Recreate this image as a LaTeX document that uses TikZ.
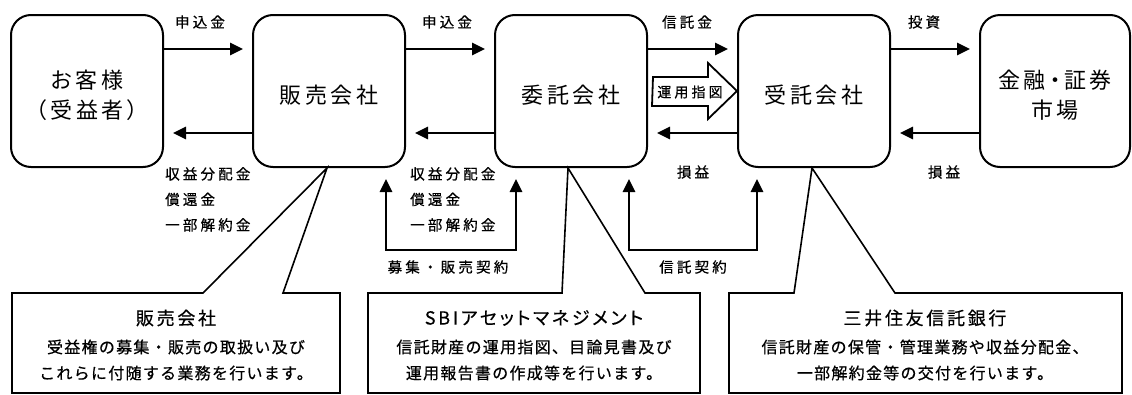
\documentclass[tikz,border=0pt]{standalone}
\usepackage{fontspec}
\usetikzlibrary{arrows.meta}

\newfontfamily\jpbox[LetterSpace=16,RawFeature=+palt]{Noto Sans CJK JP}
\newfontfamily\jplab[LetterSpace=22,FakeBold=0.6]{Noto Sans CJK JP}
\newfontfamily\jptitle[LetterSpace=15,RawFeature=+palt,FakeBold=0.4]{Noto Sans CJK JP}
\newfontfamily\jpnote[LetterSpace=8,FakeBold=0.5]{Noto Sans CJK JP}

\begin{document}
\begin{tikzpicture}[x=1pt, y=-1pt,
    firm/.style={draw, line width=2pt, rounded corners=20pt, minimum width=152pt, minimum height=152pt, inner sep=0pt},
    firmtext/.style={inner sep=0pt, align=center, yshift=-4pt, font=\jpbox\fontsize{22}{30}\selectfont},
    flow/.style={line width=2.6pt, -{Triangle[length=13pt,width=12pt]}},
    twoway/.style={line width=2.6pt, {Triangle[length=13pt,width=12pt]}-{Triangle[length=13pt,width=12pt]}},
    money/.style={inner sep=0pt, align=left, font=\jplab\fontsize{14.5}{25.5}\selectfont},
    callout/.style={draw, line width=1.6pt, fill=white},
    ctitle/.style={inner sep=0pt, font=\jptitle\fontsize{18}{22}\selectfont},
    cbody/.style={inner sep=0pt, align=center, font=\jpnote\fontsize{16}{26}\selectfont}]
    \useasboundingbox (0,0) rectangle (1132,394);

    % parties
    \node[firm, label={[firmtext]center:お客様\\（受益者）}] (kyaku) at (87,91) {};
    \node[firm, label={[firmtext]center:販売会社}] (hanbai) at (329,91) {};
    \node[firm, label={[firmtext]center:委託会社}] (itaku) at (571,91) {};
    \node[firm, label={[firmtext]center:受託会社}] (jutaku) at (814,91) {};
    \node[firm, minimum width=150pt, label={[firmtext]center:金融・証券\\市場}] (shijo) at (1055,91) {};

    \coordinate (top) at (0,49);
    \coordinate (bot) at (0,133);

    % money flows
    \draw[flow] (kyaku.east |- top) -- ([xshift=-9pt]hanbai.west |- top);
    \draw[flow] (hanbai.east |- top) -- ([xshift=-9pt]itaku.west |- top);
    \draw[flow] (itaku.east |- top) -- ([xshift=-9pt]jutaku.west |- top);
    \draw[flow] (jutaku.east |- top) -- ([xshift=-9pt]shijo.west |- top);
    \draw[flow] (hanbai.west |- bot) -- ([xshift=9pt]kyaku.east |- bot);
    \draw[flow] (itaku.west |- bot) -- ([xshift=9pt]hanbai.east |- bot);
    \draw[flow] (jutaku.west |- bot) -- ([xshift=9pt]itaku.east |- bot);
    \draw[flow] (shijo.west |- bot) -- ([xshift=9pt]jutaku.east |- bot);

    \node[money] (moushi1) at (200,22) {申込金};
    \node[money] (moushi2) at (447,22) {申込金};
    \node[money] (shintakukin) at (687,22) {信託金};
    \node[money] (toushi) at (924,22) {投資};
    \node[money, anchor=north west] (haibun1) at (165,167) {収益分配金\\償還金\\一部解約金};
    \node[money, anchor=north west] (haibun2) at (410,167) {収益分配金\\償還金\\一部解約金};
    \node[money] (soneki1) at (693,172) {損益};
    \node[money] (soneki2) at (944,172) {損益};

    % instruction arrow
    \draw[line width=1.8pt, fill=white] (itaku.east |- 0,77) ++(5,0) -- (708,77) -- (708,63) -- (jutaku.west |- 0,91)
        -- (708,119) -- (708,106) -- (652,106) -- cycle;
    \node[money, font=\jplab\fontsize{14}{16}\selectfont] (shizu) at (690,92) {運用指図};

    % contracts
    \coordinate (k1) at (451,250);
    \coordinate (k2) at (693,250);
    \draw[twoway] ([xshift=-20pt,yshift=-11pt]hanbai.south east) |- (k1) -| ([xshift=22pt,yshift=-11pt]itaku.south west);
    \draw[twoway] ([xshift=-19pt,yshift=-11pt]itaku.south east) |- (k2) -| ([xshift=20pt,yshift=-11pt]jutaku.south west);
    \node[money] (keiyaku1) at (448,267) {募集・販売契約};
    \node[money] (keiyaku2) at (693,267) {信託契約};

    % callouts
    \draw[callout] (12,293) -- (203,293) -- ([xshift=-2pt]hanbai.south) -- (283,293) -- (340,293) -- (340,393) -- (12,393) -- cycle;
    \draw[callout] (368,293) -- (562,293) -- ([xshift=-3pt]itaku.south) -- (645,293) -- (700,293) -- (700,393) -- (368,393) -- cycle;
    \draw[callout] (729,293) -- (794,293) -- ([xshift=-2pt]jutaku.south) -- (895,293) -- (1122,293) -- (1122,393) -- (729,393) -- cycle;

    \node[ctitle] (t1) at (176,318) {販売会社};
    \node[cbody] (n1) at (176,360) {受益権の募集・販売の取扱い及び\\これらに付随する業務を行います。};
    \node[ctitle] (t2) at (534,318) {SBIアセットマネジメント};
    \node[cbody] (n2) at (534,360) {信託財産の運用指図、目論見書及び\\運用報告書の作成等を行います。};
    \node[ctitle] (t3) at (925,318) {三井住友信託銀行};
    \node[cbody] (n3) at (925,360) {信託財産の保管・管理業務や収益分配金、\\一部解約金等の交付を行います。};
\end{tikzpicture}
\end{document}
